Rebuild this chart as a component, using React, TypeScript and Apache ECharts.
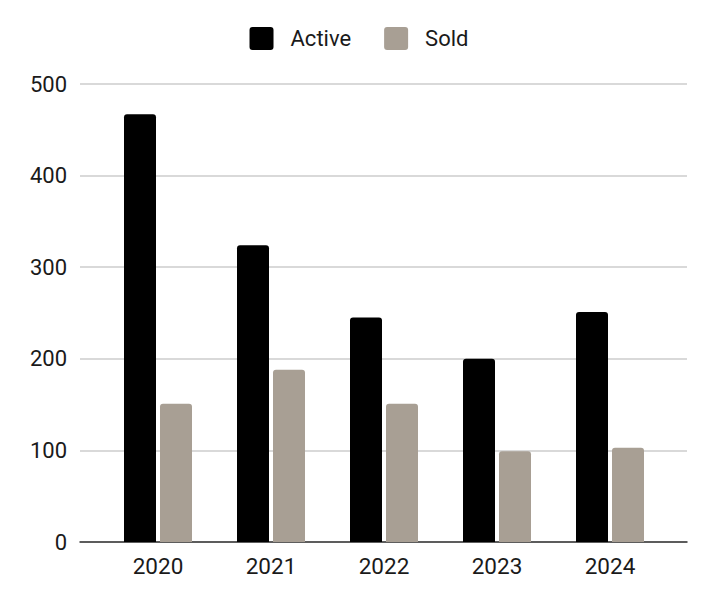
import React, { useEffect, useRef } from "react";
import * as echarts from "echarts";

const categories = ["2020", "2021", "2022", "2023", "2024"];
const activeValues = [467, 324, 245, 200, 251];
const soldValues = [151, 188, 151, 99, 103];
const yTicks = [0, 100, 200, 300, 400, 500];

export default function App() {
  const ref = useRef<HTMLDivElement>(null);
  useEffect(() => {
    if (!ref.current) return;
    const chart = echarts.init(ref.current, undefined, { renderer: "svg" });
    const font = "Roboto, 'Noto Sans', sans-serif";
    chart.setOption({
      animation: false,
      textStyle: { fontFamily: font },
      legend: {
        top: 22,
        left: "center",
        icon: "path://M3,0H21A3,3 0 0 1 24,3V20A3,3 0 0 1 21,23H3A3,3 0 0 1 0,20V3A3,3 0 0 1 3,0Z",
        itemWidth: 24,
        itemHeight: 23,
        itemGap: 33,
        textStyle: { fontSize: 22, color: "#1a1a1a", fontFamily: font, padding: [0, 0, 0, 12] },
        data: ["Active", "Sold"],
      },
      grid: [
        { left: 80, right: 31, top: 84, bottom: 56, containLabel: false },
        { left: 101.5, right: 51.5, top: 84, bottom: 56, containLabel: false },
      ],
      xAxis: [
        {
          type: "category",
          gridIndex: 0,
          data: categories,
          axisLine: { show: true, lineStyle: { color: "#333", width: 1.5 } },
          axisTick: { show: false },
          axisLabel: { show: false },
        },
        {
          type: "category",
          gridIndex: 1,
          data: categories,
          axisLine: { show: false },
          axisTick: { show: false },
          axisLabel: { fontSize: 22.5, color: "#1a1a1a", margin: 12, fontFamily: font },
        },
      ],
      yAxis: [
        {
          type: "value",
          gridIndex: 0,
          min: yTicks[0],
          max: yTicks[yTicks.length - 1],
          interval: 100,
          axisLine: { show: false },
          axisTick: { show: false },
          axisLabel: { fontSize: 22, color: "#1a1a1a", margin: 13, fontFamily: font },
          splitLine: { lineStyle: { color: "#cccccc", width: 1.5 } },
        },
        {
          type: "value",
          gridIndex: 1,
          min: yTicks[0],
          max: yTicks[yTicks.length - 1],
          interval: 100,
          show: false,
          splitLine: { show: false },
        },
      ],
      series: [
        {
          name: "Active",
          type: "bar",
          xAxisIndex: 1,
          yAxisIndex: 1,
          data: activeValues,
          barWidth: 32,
          barGap: "12.5%",
          itemStyle: { color: "#000000", borderRadius: [3, 3, 0, 0] },
        },
        {
          name: "Sold",
          type: "bar",
          xAxisIndex: 1,
          yAxisIndex: 1,
          data: soldValues,
          barWidth: 32,
          barGap: "12.5%",
          itemStyle: { color: "#a89f94", borderRadius: [3, 3, 0, 0] },
        },
      ],
    });
    return () => chart.dispose();
  }, []);
  return (
    <div
      ref={ref}
      style={{ position: "absolute", left: 0, top: 0, width: 718, height: 598, background: "#fff" }}
    />
  );
}
